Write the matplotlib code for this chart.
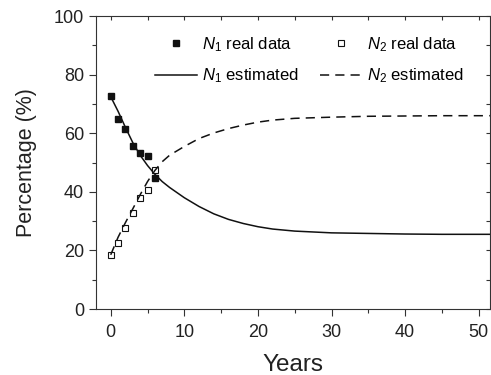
import numpy as np
import matplotlib
matplotlib.use("Agg")
import matplotlib.pyplot as plt
from matplotlib.ticker import MultipleLocator

plt.rcParams['font.family'] = ['Liberation Sans', 'DejaVu Sans']
plt.rcParams['mathtext.fontset'] = 'custom'
plt.rcParams['mathtext.rm'] = 'Liberation Sans'
plt.rcParams['mathtext.it'] = 'Liberation Sans:italic'

# observed data
years_obs = [0, 1, 2, 3, 4, 5, 6]
n1_obs = [72.6, 64.8, 61.4, 55.6, 53.2, 52.2, 44.7]
n2_obs = [18.4, 22.6, 27.6, 32.9, 37.9, 40.8, 47.4]

# estimated curves
years_est = [0, 1, 2, 3, 4, 5, 6, 7, 8, 10, 12, 14, 16, 18, 20, 22, 25, 30, 35, 40, 45, 51.5]
n1_est = [72.5, 67.5, 62.0, 56.8, 52.5, 49.0, 46.0, 43.5, 41.5, 38.0, 35.0, 32.5,
          30.6, 29.2, 28.1, 27.3, 26.6, 26.0, 25.8, 25.6, 25.5, 25.5]
n2_est = [18.5, 24.5, 29.5, 34.2, 39.0, 43.5, 47.3, 50.3, 52.5, 55.5, 58.2, 60.1,
          61.6, 62.8, 63.8, 64.5, 65.1, 65.5, 65.8, 65.9, 66.0, 66.0]

fig = plt.figure(figsize=(4.91, 3.75), dpi=100)
ax = fig.add_axes([0.1955, 0.176, 0.802, 0.781])

ax.plot(years_obs, n1_obs, 's', color='#111111', ms=4.5, label=r'$N_1$ real data')
ax.plot(years_est, n1_est, '-', color='#111111', lw=1.1, label=r'$N_1$ estimated')
ax.plot(years_obs, n2_obs, 's', mfc='white', mec='#111111', mew=0.8, ms=4.5,
        label=r'$N_2$ real data')
ax.plot(years_est, n2_est, color='#111111', lw=1.1, linestyle=(0, (6, 4)),
        label=r'$N_2$ estimated')

ax.set_xlim(-2, 51.5)
ax.set_ylim(0, 100)
ax.xaxis.set_major_locator(MultipleLocator(10))
ax.xaxis.set_minor_locator(MultipleLocator(5))
ax.yaxis.set_major_locator(MultipleLocator(20))
ax.yaxis.set_minor_locator(MultipleLocator(10))
ax.tick_params(which='major', direction='out', length=5, width=0.8,
               labelsize=13, colors='#333333', labelcolor='#222222')
ax.tick_params(axis='x', which='major', pad=6)
ax.tick_params(which='minor', direction='out', length=3, width=0.8, colors='#333333')
for s in ax.spines.values():
    s.set_color('#333333')
    s.set_linewidth(0.8)

# inward ticks on the top and right frame
top = ax.secondary_xaxis('top')
top.xaxis.set_major_locator(MultipleLocator(10))
top.xaxis.set_minor_locator(MultipleLocator(5))
top.tick_params(which='both', direction='in', length=3, width=0.8,
                colors='#333333', labeltop=False)
top.spines['top'].set_visible(False)
right = ax.secondary_yaxis('right')
right.yaxis.set_major_locator(MultipleLocator(20))
right.yaxis.set_minor_locator(MultipleLocator(10))
right.tick_params(which='both', direction='in', length=3, width=0.8,
                  colors='#333333', labelright=False)
right.spines['right'].set_visible(False)

ax.set_xlabel('Years', fontsize=17.5, color='#222222', labelpad=9)
ax.set_ylabel('Percentage (%)', fontsize=15.5, color='#222222', labelpad=12)

ax.legend(ncol=2, loc='upper left', bbox_to_anchor=(0.15, 0.935), frameon=False,
          fontsize=12, handlelength=2.5, handletextpad=0.3, columnspacing=1.3,
          labelspacing=0.75, borderpad=0, borderaxespad=0)

fig.savefig('out.png', dpi=100)
